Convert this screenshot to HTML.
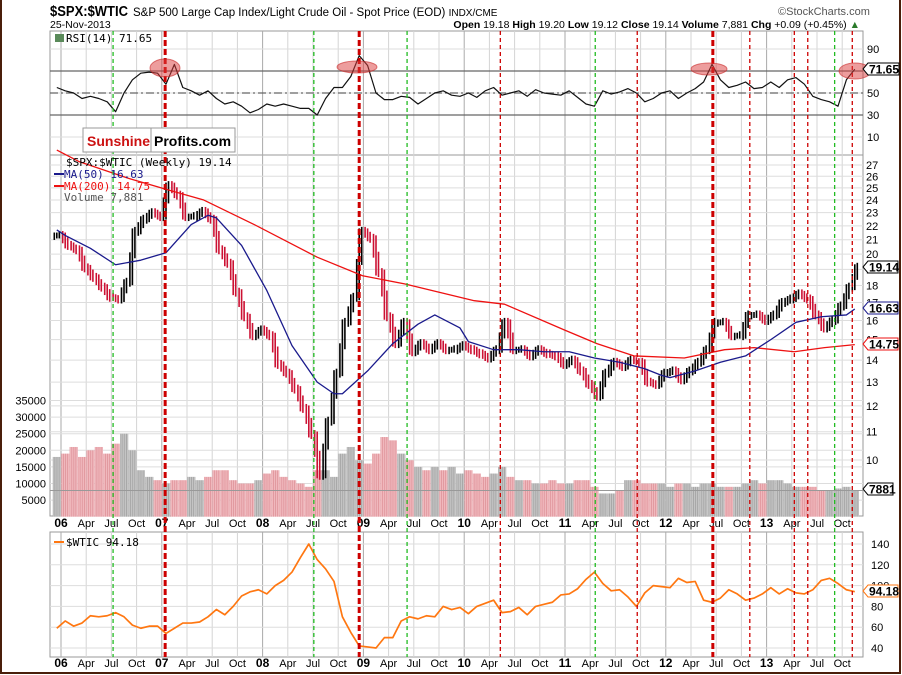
<!DOCTYPE html>
<html><head><meta charset="utf-8"><style>
body{margin:0;background:#fff;}
svg{display:block;font-family:"Liberation Sans",sans-serif;}
</style></head><body>
<svg id="chart" width="902" height="675" viewBox="0 0 902 675" xmlns="http://www.w3.org/2000/svg">
<defs>
<pattern id="stripeG" width="2.1" height="4" patternUnits="userSpaceOnUse"><rect width="2.1" height="4" fill="#c4c4c4"/><rect width="0.6" height="4" fill="#999"/></pattern>
<pattern id="stripeP" width="2.1" height="4" patternUnits="userSpaceOnUse"><rect width="2.1" height="4" fill="#f0b8bd"/><rect width="0.6" height="4" fill="#d98890"/></pattern>
</defs>
<rect x="0" y="0" width="902" height="675" fill="#fff"/>
<rect x="1" y="-2" width="899" height="675" fill="none" stroke="#4a1e0a" stroke-width="2"/>
<text x="50" y="16" font-size="14.5" font-weight="bold" textLength="78" lengthAdjust="spacingAndGlyphs">$SPX:$WTIC</text>
<text x="133" y="16" font-size="11.5">S&amp;P 500 Large Cap Index/Light Crude Oil - Spot Price (EOD) <tspan font-size="10">INDX/CME</tspan></text>
<text x="50" y="28" font-size="10.5">25-Nov-2013</text>
<text x="778" y="15" font-size="11" fill="#555">©StockCharts.com</text>
<text x="860" y="28" font-size="10.5" text-anchor="end"><tspan font-weight="bold">Open</tspan> 19.18 <tspan font-weight="bold">High</tspan> 19.20 <tspan font-weight="bold">Low</tspan> 19.12 <tspan font-weight="bold">Close</tspan> 19.14 <tspan font-weight="bold">Volume</tspan> 7,881 <tspan font-weight="bold">Chg</tspan> +0.09 (+0.45%) <tspan fill="#2a7a2a">▲</tspan></text>
<g id="grid"></g>
<g id="marks"></g>
<g id="events"></g>
<g id="overlay"></g>
</svg>
<script>
const ratioClose=[21.3,
20.6,20.3,19.1,18.5,17.9,17.3,17.2,18.2,21.6,22.5,23.0,22.7,
25.2,24.4,22.7,22.7,23.1,22.5,20.3,19.4,17.6,16.2,15.2,15.5,
15.2,13.8,13.4,12.7,11.9,10.9,9.5,11.4,13.4,15.9,17.3,21.6,
21.1,18.8,16.2,14.8,15.9,14.4,14.8,14.5,14.8,14.5,14.5,14.7,
14.5,14.3,14.1,14.5,15.9,14.5,14.5,14.2,14.5,14.3,14.2,13.8,
14.0,13.5,12.9,12.4,13.4,13.9,13.7,14.0,13.9,13.0,12.9,13.4,
13.5,13.1,13.5,13.9,14.5,15.9,15.9,15.2,15.2,16.3,16.3,16.0,
16.3,17.0,17.2,17.5,17.2,16.3,15.6,16.0,16.8,17.9,19.14];
const volume=[18000,
19000,21000,18000,20000,21000,19000,22000,25000,20000,14000,12000,11000,
10000,11000,11000,12000,11000,12000,14000,14000,11000,10000,10000,11000,
13000,14000,12000,11000,10000,9000,14000,14000,12000,19000,21000,17000,
16000,19000,24000,23000,19000,17000,15000,14000,15000,14000,15000,13000,
14000,13000,12000,13000,15000,12000,11000,11000,10000,10000,11000,10000,
10000,11000,11000,9000,7000,7000,8000,11000,11000,10000,10000,10000,
9000,10000,10000,9000,10000,10000,9000,9000,9000,10000,11000,10000,
11000,11000,10000,9000,9000,9000,8000,8000,8500,9000,7881];
const rsi=[55,
52,50,45,47,45,42,33,50,62,68,69,68,
58,76,55,52,48,52,45,40,42,38,32,35,
40,38,40,38,36,36,30,45,55,55,65,84,
75,50,44,44,47,46,40,45,50,52,48,47,
50,46,52,55,48,50,52,47,53,50,49,48,
52,46,40,38,52,49,51,54,50,42,45,50,
52,45,50,54,60,76,62,55,57,60,54,55,
60,55,62,64,58,47,44,42,38,62,71.65];
const wtic=[59,
66,61,64,71,70,71,74,70,62,59,61,61,
54,59,64,64,65,70,77,72,80,90,94,96,
92,100,105,113,127,140,125,116,104,70,55,42,
41,40,50,50,66,70,68,71,70,80,77,79,
73,80,83,86,74,75,79,72,80,82,84,91,
92,97,106,113,102,95,96,89,80,93,100,99,
98,107,103,104,86,84,88,96,92,86,88,92,
98,92,97,93,92,96,105,107,102,96,94.18];
const ma50Months=[-1,0,3,6,9,12,15,17,18,21,24,27,30,32,33,36,39,42,44,47,48,51,54,57,60,63,66,69,71,72,75,78,81,84,87,90,93,94];
const ma50=[21.7,21.3,20.4,19.3,19.6,20.1,22.1,22.8,22.6,20.6,17.7,14.7,13.0,12.5,12.5,13.5,14.8,15.8,16.3,15.6,14.9,14.5,14.5,14.4,14.4,14.1,13.9,13.6,13.3,13.2,13.5,13.9,14.2,15.0,15.9,16.2,16.3,16.63];
const ma200Months=[-1,1.7,7.6,12.4,16.5,22.5,30,35.4,40.4,48.7,52.3,59.4,63.3,67.7,73.7,78.5,82,86.8,90.4,94];
const ma200=[28.4,27.3,25.8,24.8,24.0,22.1,19.8,18.6,18.1,17.1,16.9,15.5,14.8,14.2,14.1,14.5,14.6,14.4,14.6,14.75];
const ratioTicks=[10,11,12,13,14,15,16,17,18,19,20,21,22,23,24,25,26,27];
const volTicks=[5000,10000,15000,20000,25000,30000,35000];
const rsiTicks=[10,30,50,70,90];
const wticTicks=[40,60,80,100,120,140];
const yearLabels=["06","07","08","09","10","11","12","13"];
const qLabels=["","Apr","Jul","Oct"];
const eventMonths=[6.2,12.4,30.1,35.5,41.2,52.3,63.6,68.6,77.6,82.0,87.3,88.9,92.1,94.2];
const eventTypes=["g","R","g","R","g","r","g","r","R","r","r","r","g","r"];

const NS="http://www.w3.org/2000/svg";
const L=50,R=863;
const P={rsiT:31,rsiB:155,mainT:155,mainB:516,wT:532,wB:657};
const xm=m=>61+(m+0.5)*8.4;
const xg=m=>61+m*8.4;
const yr=v=>165+(3.296-Math.log(v))*297;
const yVol=v=>516.7-v*16.6/5000;
const yRsi=v=>148-v*1.1;
const yW=v=>544+(140-v)*1.04;
function el(tag,attrs,parent,text){const e=document.createElementNS(NS,tag);for(const k in attrs)e.setAttribute(k,attrs[k]);if(text!==undefined)e.textContent=text;parent.appendChild(e);return e;}
const grid=document.getElementById('grid'),marks=document.getElementById('marks'),ev=document.getElementById('events'),ov=document.getElementById('overlay');

[[P.rsiT,P.rsiB,'rsi-panel'],[P.mainT,P.mainB,'price-panel'],[P.wT,P.wB,'wtic-panel']].forEach(p=>{
  const r=el('rect',{x:L,y:p[0],width:R-L,height:p[1]-p[0],fill:'#fff',stroke:'#999','stroke-width':1},grid);
  
  
});
for(let m=0;m<=94;m+=3){
  const x=xg(m);const yrStart=m%12===0;
  [[P.rsiT,P.rsiB],[P.mainT,P.mainB],[P.wT,P.wB]].forEach(p=>{
    el('line',{x1:x,x2:x,y1:p[0],y2:p[1],stroke:yrStart?'#aaa':'#d4d4d4','stroke-width':1},grid);
  });
  const lab=yrStart?yearLabels[m/12]:qLabels[(m%12)/3];
  [527,667].forEach(y=>{
    const t=el('text',{x:x,y:y,'font-size':yrStart?12:11,'font-weight':yrStart?'bold':'normal','text-anchor':'middle'},grid,lab);
    
    
  });
}
ratioTicks.forEach(v=>{const y=yr(v);if(y<P.mainT+5)return;
  el('line',{x1:L,x2:R,y1:y,y2:y,stroke:'#ddd'},grid);
  const t=el('text',{x:R+3,y:y+4,'font-size':11},grid,v);
  
  });
volTicks.forEach(v=>{const y=yVol(v);
  el('line',{x1:L,x2:R,y1:y,y2:y,stroke:'#ddd'},grid);
  const t=el('text',{x:46,y:y+4,'font-size':11,'text-anchor':'end'},grid,v);
  
  });
rsiTicks.forEach(v=>{const y=yRsi(v);
  el('line',{x1:L,x2:R,y1:y,y2:y,stroke:'#ddd'},grid);
  const t=el('text',{x:R+4,y:y+4,'font-size':11},grid,v);
  
  });
[[70,'none'],[30,'none'],[50,'8,3,2,3']].forEach(a=>{const y=yRsi(a[0]);
  el('line',{x1:L,x2:R,y1:y,y2:y,stroke:'#666','stroke-width':1.2,'stroke-dasharray':a[1]},grid);});
wticTicks.forEach(v=>{const y=yW(v);
  el('line',{x1:L,x2:R,y1:y,y2:y,stroke:'#ddd'},grid);
  const t=el('text',{x:R+8,y:y+4,'font-size':11},grid,v);
  
  });

volume.forEach((v,i)=>{const m=i-1;const up=i===0||ratioClose[i]>=ratioClose[i-1];
  const b=el('rect',{x:xg(m)+0.2,y:yVol(v),width:8.2,height:516.7-yVol(v),fill:up?'url(#stripeG)':'url(#stripeP)'},marks);
  
  });
el('line',{x1:L,x2:R,y1:yVol(7881),y2:yVol(7881),stroke:'#999'},marks);
ratioClose.forEach((c,i)=>{const m=i-1;const prev=i===0?c:ratioClose[i-1];const up=c>=prev;
  const hi=Math.max(c,prev)*1.015,lo=Math.min(c,prev)*0.985;const mid=(hi+lo)/2;const x=xm(m);
  const col=up?'#000':'#cc1133';
  const g=el('g',{},marks);
  
  
  el('line',{x1:x-2.5,x2:x-2.5,y1:yr(up?mid*1.01:hi),y2:yr(up?lo:mid*0.99),stroke:col,'stroke-width':1.6},g);
  el('line',{x1:x,x2:x,y1:yr(hi*0.995),y2:yr(lo*1.005),stroke:col,'stroke-width':1.6},g);
  el('line',{x1:x+2.5,x2:x+2.5,y1:yr(up?hi:mid*1.01),y2:yr(up?mid*0.99:lo),stroke:col,'stroke-width':1.6},g);
});
function poly(ms,vs,yf,color,w,name,par){const pts=ms.map((m,i)=>xm(m)+','+yf(vs[i])).join(' ');
  const p=el('polyline',{points:pts,fill:'none',stroke:color,'stroke-width':w,'stroke-linejoin':'round'},par);
  
  return p;}
const idx=ratioClose.map((_,i)=>i-1);
poly(ma200Months,ma200,yr,'#ee1111',1.3,'ma200-line',marks);
poly(ma50Months,ma50,yr,'#1a1a8c',1.3,'ma50-line',marks);
poly(idx,rsi,yRsi,'#111',1.2,'rsi-line',marks);
poly(idx,wtic,yW,'#ff7711',1.7,'wtic-line',marks);

eventMonths.forEach((m,i)=>{const t=eventTypes[i];const x=xg(m);
  const l=el('line',{x1:x,x2:x,y1:P.rsiT,y2:P.wB,stroke:t==='g'?'#22bb22':'#cc0000','stroke-width':t==='R'?3:1.3,'stroke-dasharray':t==='R'?'6,3':'4,3'},ev);
  
  });
[[165,68,15,9],[357,67,20,6],[709,69,18,6],[855,71,16,8]].forEach(e=>{
  const c=el('ellipse',{cx:e[0],cy:e[1],rx:e[2],ry:e[3],fill:'rgba(220,60,60,0.5)',stroke:'rgba(200,40,40,0.6)'},ov);
  
  });
</script>
<script>
(function(){
const NS="http://www.w3.org/2000/svg";const ov=document.getElementById('overlay');
function el(tag,attrs,parent,text){const e=document.createElementNS(NS,tag);for(const k in attrs)e.setAttribute(k,attrs[k]);if(text!==undefined)e.textContent=text;parent.appendChild(e);return e;}
const mono='"DejaVu Sans Mono","Liberation Mono",monospace';
function lab(x,y,txt,color,name){const t=el('text',{x:x,y:y,'font-size':11,'font-family':mono,fill:color},ov,txt);
  
  }
el('rect',{x:55,y:34,width:9,height:8,fill:'#5a8a5a'},ov);
lab(66,42,'RSI(14) 71.65','#000','rsi-legend');
lab(66,166,'$SPX:$WTIC (Weekly) 19.14','#000','price-legend');
el('rect',{x:54,y:173,width:10,height:2,fill:'#1a1a8c'},ov);
lab(64,178,'MA(50) 16.63','#1a1a8c','ma50-legend');
el('rect',{x:54,y:185,width:10,height:2,fill:'#ee1111'},ov);
lab(64,190,'MA(200) 14.75','#ee1111','ma200-legend');
lab(64,201,'Volume 7,881','#555','volume-legend');
el('rect',{x:54,y:541,width:10,height:2,fill:'#ff7711'},ov);
lab(66,546,'$WTIC  94.18','#000','wtic-legend');
const g=el('g',{},ov);


el('rect',{x:83,y:128,width:152,height:24,fill:'#fff',stroke:'#999'},g);
el('line',{x1:151,x2:151,y1:128,y2:152,stroke:'#999'},g);
el('text',{x:87,y:146,'font-size':14,'font-weight':'bold',fill:'#cc1111'},g,'Sunshine');
el('text',{x:154,y:146,'font-size':14,'font-weight':'bold',fill:'#000'},g,'Profits.com');
function box(y,txt,color,name,w){const gg=el('g',{},ov);
  
  
  el('path',{d:`M863 ${y} L868 ${y-6} L${868+w} ${y-6} L${868+w} ${y+6} L868 ${y+6} Z`,fill:'#fff',stroke:color},gg);
  el('text',{x:869,y:y+4.5,'font-size':12,'font-weight':'bold'},gg,txt);}
box(69,'71.65','#000','rsi-value-label',31);
box(267,'19.14','#000','price-value-label',30);
box(308,'16.63','#1a1a8c','ma50-value-label',30);
box(344,'14.75','#ee1111','ma200-value-label',30);
box(489,'7881','#000','volume-value-label',25);
box(591,'94.18','#ff7711','wtic-value-label',30);
})();
</script>
</body></html>
